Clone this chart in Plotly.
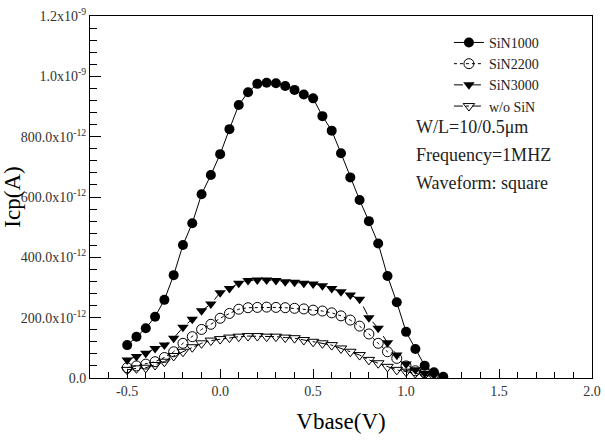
import plotly.graph_objects as go

# ---- data (pA) ----
x_sin1000 = [round(-0.5 + 0.05 * i, 2) for i in range(35)]  # -0.5 .. 1.2
y_sin1000 = [109, 137, 165, 203, 259, 341, 441, 513, 609, 673, 742, 825, 905, 947, 975,
             979, 977, 968, 955, 940, 927, 868, 820, 745, 665, 590, 520, 446, 338, 251,
             153, 96, 41, 19, 4]

x_sin2200 = [round(-0.5 + 0.05 * i, 2) for i in range(33)]  # -0.5 .. 1.1
y_sin2200 = [34, 40, 46, 54, 68, 87, 115, 137, 161, 178, 198, 214, 228, 233, 234,
             235, 234, 233, 231, 229, 225, 222, 216, 206, 192, 172, 146, 115, 87, 65,
             40, 24, 18]

x_sin3000 = [round(-0.5 + 0.05 * i, 2) for i in range(34)]  # -0.5 .. 1.15
y_sin3000 = [60, 71, 82, 98, 109, 132, 168, 195, 223, 245, 283, 297, 314, 323, 325,
             325, 323, 319, 317, 314, 312, 306, 297, 286, 275, 261, 200, 165, 117, 76,
             46, 27, 16, 10]

x_wosin = [round(-0.5 + 0.05 * i, 2) for i in range(34)]  # -0.5 .. 1.15
y_wosin = [27, 32, 34, 43, 54, 73, 87, 102, 115, 124, 129, 134, 137, 139, 139,
           137, 137, 134, 132, 126, 120, 115, 109, 98, 87, 76, 60, 49, 37, 27,
           21, 16, 10, 4]

y_tickvals_pA = [0, 200, 400, 600, 800, 1000, 1200]
y_ticktext = ["0.0", "200.0x10<sup>-12</sup>", "400.0x10<sup>-12</sup>",
              "600.0x10<sup>-12</sup>", "800.0x10<sup>-12</sup>",
              "1.0x10<sup>-9</sup>", "1.2x10<sup>-9</sup>"]
x_tickvals = [-0.5, 0.0, 0.5, 1.0, 1.5, 2.0]
x_ticktext = ["-0.5", "0.0", "0.5", "1.0", "1.5", "2.0"]

notes = ["W/L=10/0.5\u03bcm", "Frequency=1MHZ", "Waveform: square"]

FONT = "Liberation Serif"

def amps(vals):
    return [v * 1e-12 for v in vals]

fig = go.Figure()
fig.add_trace(go.Scatter(x=x_sin1000, y=amps(y_sin1000), name="SiN1000", mode="lines+markers",
                         line=dict(color="black", width=1, dash="solid"),
                         marker=dict(symbol="circle", size=10, color="black")))
fig.add_trace(go.Scatter(x=x_sin2200, y=amps(y_sin2200), name="SiN2200", mode="lines+markers",
                         line=dict(color="black", width=1, dash="dot"),
                         marker=dict(symbol="circle-open", size=10, color="black", line=dict(width=1))))
fig.add_trace(go.Scatter(x=x_sin3000, y=amps(y_sin3000), name="SiN3000", mode="lines+markers",
                         line=dict(color="black", width=1, dash="dash"),
                         marker=dict(symbol="triangle-down", size=10, color="black")))
fig.add_trace(go.Scatter(x=x_wosin, y=amps(y_wosin), name="w/o SiN", mode="lines+markers",
                         line=dict(color="black", width=1, dash="dashdot"),
                         marker=dict(symbol="triangle-down-open", size=10, color="black", line=dict(width=1))))

for i, t in enumerate(notes):
    fig.add_annotation(text=t, xref="paper", yref="paper", x=0.645, y=0.694 - i * 0.077,
                       xanchor="left", yanchor="middle", showarrow=False,
                       font=dict(family=FONT, size=18, color="#222"))

fig.update_layout(
    width=605, height=442,
    margin=dict(l=90, r=13, t=16, b=64, autoexpand=False),
    paper_bgcolor="white", plot_bgcolor="white",
    font=dict(family=FONT, size=13, color="black"),
    showlegend=True,
    legend=dict(x=0.715, y=0.97, xanchor="left", yanchor="top", bgcolor="rgba(0,0,0,0)",
                font=dict(family=FONT, size=14, color="#222"), tracegroupgap=0,
                itemwidth=30),
    xaxis=dict(range=[-0.7, 2.0], tickvals=x_tickvals, ticktext=x_ticktext,
               showline=True, linecolor="black", linewidth=1, mirror=True, automargin=False,
               ticks="inside", ticklen=9, tickcolor="black", showgrid=False, zeroline=False,
               minor=dict(ticks="inside", ticklen=6, dtick=0.1, tick0=0, tickcolor="black", showgrid=False),
               tickfont=dict(family=FONT, size=14, color="#333"),
               title=dict(text="Vbase(V)", font=dict(family=FONT, size=23, color="black"), standoff=15)),
    yaxis=dict(range=[0, 1.2e-9], tickvals=amps(y_tickvals_pA), ticktext=y_ticktext,
               showline=True, linecolor="black", linewidth=1, mirror=True, automargin=False,
               ticks="inside", ticklen=11, tickcolor="black", showgrid=False, zeroline=False,
               minor=dict(ticks="inside", ticklen=7, dtick=40e-12, tick0=0, tickcolor="black", showgrid=False),
               tickfont=dict(family=FONT, size=14, color="#333"),
               title=dict(text="Icp(A)", font=dict(family=FONT, size=23, color="black"), standoff=0)),
)

fig.write_html("out.html")
